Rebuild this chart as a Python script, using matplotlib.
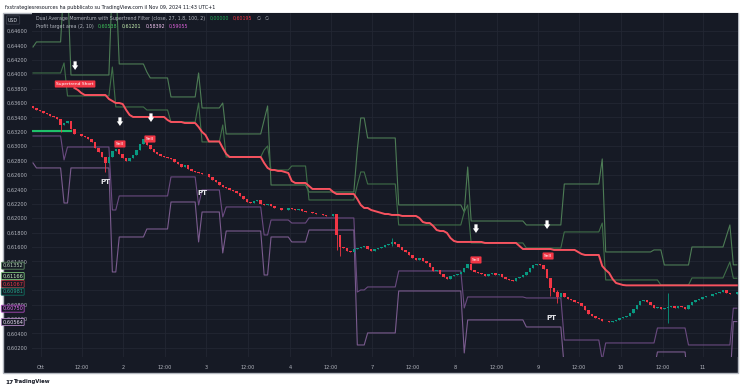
import numpy as np
import matplotlib.pyplot as plt
from matplotlib.patches import Rectangle
from matplotlib.offsetbox import TextArea, HPacker, VPacker, AnchoredOffsetbox

# ---- data (1h bars, 30 Sep - 11 Oct) ----
first_open = 0.63560
closes = [
    0.63531, 0.63503, 0.63489, 0.63461, 0.63447, 0.63420, 0.63406, 0.63378, 0.63295, 0.63322,
    0.63350, 0.63239, 0.63170, 0.63165, 0.63142, 0.63128, 0.63100, 0.63059, 0.62975, 0.62920,
    0.62850, 0.62767, 0.62850, 0.62934, 0.62961, 0.62892, 0.62836, 0.62795, 0.62836, 0.62878,
    0.62948, 0.63031, 0.63100, 0.63017, 0.62961, 0.62920, 0.62892, 0.62864, 0.62850, 0.62836,
    0.62823, 0.62781, 0.62753, 0.62711, 0.62739, 0.62684, 0.62656, 0.62642, 0.62628, 0.62614,
    0.62610, 0.62573, 0.62531, 0.62503, 0.62461, 0.62434, 0.62420, 0.62392, 0.62378, 0.62350,
    0.62309, 0.62267, 0.62225, 0.62211, 0.62239, 0.62253, 0.62197, 0.62184, 0.62197, 0.62170,
    0.62142, 0.62138, 0.62114, 0.62110, 0.62142, 0.62128, 0.62114, 0.62128, 0.62100, 0.62086,
    0.62082, 0.62072, 0.62058, 0.62054, 0.62045, 0.62031, 0.62027, 0.62058, 0.61767, 0.61600,
    0.61586, 0.61545, 0.61531, 0.61572, 0.61586, 0.61600, 0.61614, 0.61572, 0.61545, 0.61572,
    0.61586, 0.61600, 0.61628, 0.61642, 0.61670, 0.61642, 0.61600, 0.61559, 0.61531, 0.61489,
    0.61447, 0.61420, 0.61447, 0.61406, 0.61378, 0.61322, 0.61267, 0.61281, 0.61225, 0.61184,
    0.61156, 0.61197, 0.61211, 0.61225, 0.61253, 0.61309, 0.61364, 0.61281, 0.61253, 0.61239,
    0.61225, 0.61197, 0.61225, 0.61239, 0.61211, 0.61225, 0.61184, 0.61156, 0.61142, 0.61128,
    0.61170, 0.61184, 0.61211, 0.61253, 0.61309, 0.61350, 0.61364, 0.61350, 0.61295, 0.61170,
    0.61031, 0.60975, 0.60906, 0.60961, 0.60906, 0.60878, 0.60864, 0.60836, 0.60822, 0.60781,
    0.60725, 0.60670, 0.60642, 0.60614, 0.60600, 0.60573, 0.60569, 0.60559, 0.60573, 0.60587,
    0.60614, 0.60628, 0.60642, 0.60684, 0.60739, 0.60795, 0.60850, 0.60864, 0.60836, 0.60795,
    0.60753, 0.60767, 0.60739, 0.60753, 0.60767, 0.60781, 0.60753, 0.60781, 0.60767, 0.60739,
    0.60795, 0.60836, 0.60864, 0.60878, 0.60906, 0.60920, 0.60916, 0.60947, 0.60961, 0.60975,
    0.61003, 0.60961, 0.60947, 0.60945, 0.60981,
]
# the few wicks that stick out
wick_bars = [8, 21, 88, 89, 104, 150, 152, 184]
wick_highs = [0.63364, 0.62850, 0.62031, 0.61712, 0.61725, 0.61170, 0.61003, 0.60961]
wick_lows = [0.63198, 0.62642, 0.61559, 0.61475, 0.61614, 0.60920, 0.60822, 0.60545]

# supertrend: long (green) first, then short (red) from bar 12, run-length coded
st_long_level = 0.63211
st_long_bars = 12
st_levels = [0.63809, 0.63781, 0.63739, 0.63711, 0.63656, 0.63628, 0.63600, 0.63586, 0.63503, 0.63434,
             0.63406, 0.63364, 0.63336, 0.63322, 0.63267, 0.63198, 0.63156, 0.63066, 0.62975, 0.62892,
             0.62850, 0.62767, 0.62698, 0.62670, 0.62656, 0.62642, 0.62628, 0.62517, 0.62489, 0.62448,
             0.62406, 0.62364, 0.62336, 0.62267, 0.62184, 0.62142, 0.62114, 0.62100, 0.62086, 0.62072,
             0.62058, 0.62045, 0.62031, 0.62003, 0.61947, 0.61933, 0.61892, 0.61836, 0.61822, 0.61795,
             0.61725, 0.61684, 0.61670, 0.61656, 0.61614, 0.61572, 0.61559, 0.61531, 0.61503, 0.61489,
             0.61336, 0.61281, 0.61239, 0.61156, 0.61100, 0.61086, 0.61072, 0.61067]
st_runs = [1, 1, 1, 7, 1, 1, 2, 1, 1, 1,
           10, 1, 4, 4, 1, 1, 1, 4, 1, 1,
           10, 1, 1, 2, 2, 1, 1, 1, 4, 1,
           6, 1, 6, 1, 1, 2, 1, 1, 1, 1,
           2, 3, 5, 1, 1, 2, 1, 1, 2, 1,
           1, 1, 8, 10, 1, 9, 7, 1, 1, 5,
           1, 1, 1, 1, 1, 1, 1, 33]

# profit target area: two upper (green) and two lower (purple) lines, run-length coded
up_outer_levels = [0.64378, 0.64448, 0.65309, 0.63989, 0.65309, 0.64142, 0.64031, 0.63948, 0.63684, 0.64017,
                   0.63531, 0.63600, 0.63170, 0.63364, 0.63559, 0.62461, 0.62364, 0.62948, 0.63392, 0.63114,
                   0.62184, 0.62086, 0.62711, 0.61961, 0.61906, 0.62475, 0.62823, 0.61531, 0.61559, 0.61350,
                   0.61600, 0.61753, 0.61906, 0.61352]
up_outer_runs = [1, 8, 2, 12, 2, 8, 1, 6, 8, 1,
                 6, 1, 11, 1, 1, 11, 14, 1, 2, 9,
                 19, 1, 1, 16, 11, 11, 1, 14, 3, 8,
                 10, 1, 1, 2]
up_inner_levels = [0.64017, 0.64156, 0.63698, 0.64100, 0.63545, 0.63503, 0.63336, 0.63600, 0.63059, 0.63295,
                   0.62850, 0.62948, 0.63003, 0.62670, 0.62725, 0.62253, 0.62461, 0.62642, 0.62475, 0.61906,
                   0.62086, 0.62184, 0.61656, 0.61586, 0.61809, 0.61933, 0.61142, 0.61072, 0.61170, 0.61281,
                   0.61392, 0.61166]
up_inner_runs = [9, 1, 13, 1, 9, 7, 8, 1, 6, 1,
                 11, 1, 1, 6, 5, 14, 1, 2, 9, 19,
                 1, 1, 16, 11, 11, 1, 16, 9, 10, 1,
                 1, 2]
lo_inner_levels = [0.63142, 0.62809, 0.62989, 0.62114, 0.62309, 0.62573, 0.62184, 0.62392, 0.62017, 0.62156,
                   0.61767, 0.61975, 0.61933, 0.62003, 0.60975, 0.61003, 0.61045, 0.61267, 0.60753, 0.60906,
                   0.60892, 0.60308, 0.60031, 0.60267, 0.60475, 0.60239, 0.60750]
lo_inner_runs = [9, 1, 13, 2, 15, 8, 1, 6, 1, 11,
                 2, 6, 5, 14, 1, 2, 9, 19, 1, 17,
                 11, 11, 1, 15, 9, 13, 2]
lo_outer_levels = [0.62767, 0.62698, 0.62211, 0.62698, 0.61253, 0.61739, 0.61850, 0.62225, 0.61670, 0.62086,
                   0.61517, 0.61822, 0.61211, 0.61739, 0.61670, 0.61836, 0.60239, 0.60406, 0.60989, 0.60128,
                   0.60587, 0.60489, 0.59920, 0.59683, 0.59892, 0.60142, 0.59683, 0.60564]
lo_outer_runs = [1, 8, 2, 12, 2, 8, 7, 8, 1, 6,
                 1, 11, 2, 6, 5, 14, 3, 9, 19, 1,
                 17, 11, 11, 1, 15, 9, 13, 2]

# signals
arrow_bars = [12.2, 25.2, 34.2, 128.4, 149.0]
arrow_tips = [0.64059, 0.63281, 0.63336, 0.61795, 0.61850]
sell_bars = [25.2, 33.9, 128.4, 149.3]
sell_prices = [0.63031, 0.63100, 0.61420, 0.61475]
pt_bars = [20.9, 49.0, 150.4]
pt_prices = [0.62503, 0.62350, 0.60614]
st_short_bar, st_short_price = 12.2, 0.63864

# last-value tags on the price scale (stacked by the scale so they don't collide)
tag_values = [0.61352, 0.61166, 0.61067, 0.60981, 0.60750, 0.60564]
tag_slots = [0.61340, 0.61197, 0.61086, 0.60979, 0.60743, 0.60558]
tag_text = ["#b9d6b9", "#c8f0c0", "#f23645", "#22a88e", "#e070ee", "#eadcf2"]
tag_edge = ["#5f8a63", "#7cc47a", "#a8323b", "#0f6f60", "#b04cc0", "#b58ac6"]

# time axis
tick_pos = [2.3, 14.2, 26.1, 38.3, 50.1, 62.3, 74.5, 86.4, 98.3, 110.1,
            122.3, 134.5, 146.4, 158.3, 170.4, 182.6, 194.2]
tick_lab = ["Ott", "12:00", "2", "12:00", "3", "12:00", "4", "12:00", "7", "12:00",
            "8", "12:00", "9", "12:00", "10", "12:00", "11"]
price_ticks = np.arange(0.602, 0.6470, 0.002)
hidden_ticks = [0.612, 0.610]  # fully covered by the tags in the original

BG = "#161a25"
TXT = "#b2b5be"
W, H = 743, 390

fig = plt.figure(figsize=(W / 100, H / 100), dpi=100, facecolor="white")
# dark chart panel (drawn beneath the axes)
panel = Rectangle((3 / W, 1 - 373 / H), 735 / W, 360 / H, transform=fig.transFigure,
                  facecolor=BG, edgecolor="#b4b8c0", lw=1.0, zorder=-10)
fig.add_artist(panel)
ax = fig.add_axes([32 / W, 1 - 357 / H, 706 / W, 344 / H])
ax.set_facecolor(BG)
for s in ax.spines.values():
    s.set_visible(False)

n = len(closes)
x = np.arange(n)
c = np.array(closes)
o = np.concatenate([[first_open], c[:-1]])
hi = np.maximum(o, c)
lo = np.minimum(o, c)
for b, h, l in zip(wick_bars, wick_highs, wick_lows):
    hi[b] = max(hi[b], h)
    lo[b] = min(lo[b], l)
up = c >= o
cols = np.where(up, "#089981", "#f23645")

# bands
band_specs = [
    (up_outer_levels, up_outer_runs, "#4d7c55"),
    (up_inner_levels, up_inner_runs, "#3f6e48"),
    (lo_inner_levels, lo_inner_runs, "#6a4a80"),
    (lo_outer_levels, lo_outer_runs, "#7a5b8e"),
]
for lv, rn, col in band_specs:
    ax.plot(x, np.repeat(lv, rn), color=col, lw=0.8, zorder=2)

# supertrend
ax.plot(np.arange(st_long_bars), np.repeat(st_long_level, st_long_bars), color="#1fc06a", lw=1.5, zorder=3)
ax.plot(np.arange(st_long_bars, n), np.repeat(st_levels, st_runs), color="#f7525f", lw=1.4, zorder=3)

# candles
ax.vlines(x, lo, hi, colors=cols, lw=0.6, zorder=4)
body_bottom = np.minimum(o, c)
body = np.maximum(np.abs(c - o), 0.00006)
ax.bar(x, body, bottom=body_bottom, width=0.72, color=cols, linewidth=0, zorder=5)

# signals
for b, p in zip(arrow_bars, arrow_tips):
    ax.annotate("", xy=(b, p), xytext=(0, 6.2), textcoords="offset points",
                arrowprops=dict(arrowstyle="simple,head_length=0.55,head_width=0.75,tail_width=0.38",
                                fc="white", ec="none", mutation_scale=6, shrinkA=0, shrinkB=0), zorder=7)
for b, p in zip(sell_bars, sell_prices):
    ax.text(b, p, "Sell", color="white", fontsize=3.2, ha="center", va="center", zorder=7,
            bbox=dict(boxstyle="round,pad=0.35,rounding_size=0.2", fc="#f23645", ec="none"))
for b, p in zip(pt_bars, pt_prices):
    ax.text(b, p, "PT", color="#e9e9ee", fontsize=5, fontweight="bold", ha="center", va="center", zorder=7)
ax.text(st_short_bar, st_short_price, "Supertrend Short", color="white", fontsize=3.2, ha="center",
        va="center", zorder=7, bbox=dict(boxstyle="round,pad=0.35,rounding_size=0.2", fc="#f23645", ec="none"))

# axes
ax.set_xlim(-0.29, 204.35)
ax.set_ylim(0.60072, 0.64850)
ax.set_yticks(price_ticks)
ax.set_yticklabels(["" if any(abs(v - h) < 1e-6 for h in hidden_ticks) else f"{v:.5f}".replace(".", ",")
                    for v in price_ticks])
ax.set_xticks(tick_pos)
ax.set_xticklabels(tick_lab)
ax.tick_params(axis="y", length=0, pad=3, labelsize=3.6, labelcolor=TXT)
ax.tick_params(axis="x", length=0, pad=5.5, labelsize=3.6, labelcolor=TXT)
ax.grid(True, color="#232733", lw=0.6)
ax.set_axisbelow(True)

# price-scale tags
for v, slot, tc, ec in zip(tag_values, tag_slots, tag_text, tag_edge):
    ax.text(-0.0125, slot, f"{v:.5f}".replace(".", ","), transform=ax.get_yaxis_transform(),
            ha="right", va="center", fontsize=3.6, color=tc, zorder=10, clip_on=False,
            bbox=dict(boxstyle="round,pad=0.2,rounding_size=0.15", fc=BG, ec=ec, lw=0.6))

# legend lines top-left
def row(parts):
    return HPacker(children=[TextArea(t, textprops=dict(color=col, fontsize=3.4)) for t, col in parts],
                   align="baseline", pad=0, sep=3)

leg = VPacker(children=[
    row([("Dual Average Momentum with Supertrend Filter (close, 27, 1.8, 100, 2)", TXT),
         ("0,00000", "#22ab57"), ("0,60195", "#f23645"), ("\u2205", TXT), ("\u2205", TXT)]),
    row([("Profit target area (2, 10)", TXT), ("0,60538", "#3dc25a"), ("0,61201", "#c6efb0"),
         ("0,58392", "#efc2ee"), ("0,59055", "#d85fd6")]),
], align="left", pad=0, sep=2)
fig.add_artist(AnchoredOffsetbox(loc="upper left", child=leg, frameon=False, pad=0, borderpad=0,
                                 bbox_to_anchor=(36 / W, 1 - 16 / H), bbox_transform=fig.transFigure))

fig.text(8 / W, 1 - 20 / H, "USD", fontsize=3.4, color="#d1d4dc", va="center", ha="left",
         bbox=dict(boxstyle="round,pad=0.35,rounding_size=0.15", fc=BG, ec="#3a3e4a", lw=0.6))

# screenshot header / footer
fig.text(5 / W, 1 - 7 / H, "fxstrategiesresources ha pubblicato su TradingView.com il Nov 09, 2024 11:43 UTC+1",
         fontsize=3.5, color="#131722", va="center", ha="left")
fig.text(5 / W, 1 - 382 / H, "17", fontsize=4.2, fontweight="heavy", color="#131722", va="center", ha="left")
fig.text(13 / W, 1 - 382 / H, "TradingView", fontsize=3.8, fontweight="bold", color="#131722",
         va="center", ha="left")

fig.savefig("out.png", dpi=100, facecolor="white")
